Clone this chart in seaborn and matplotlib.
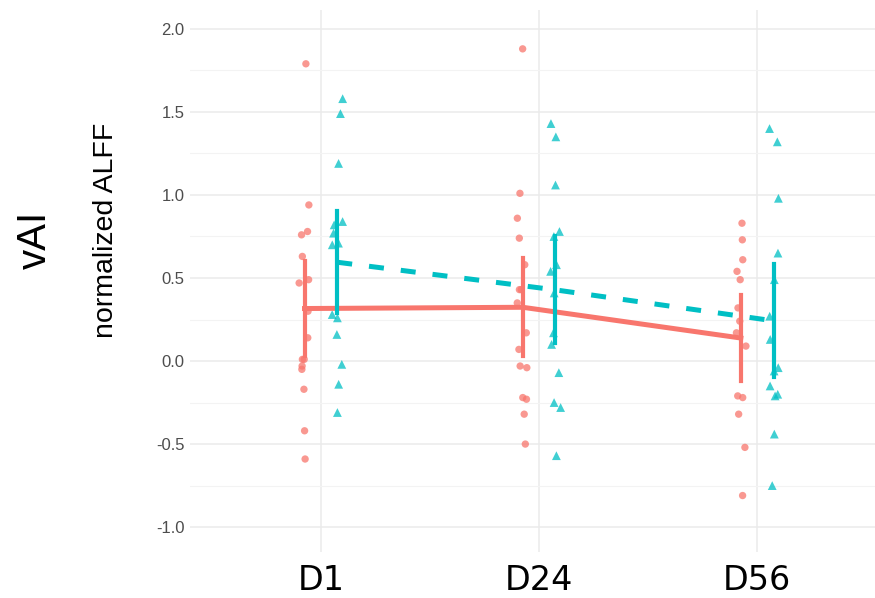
import numpy as np
import pandas as pd
import matplotlib
matplotlib.use("Agg")
import matplotlib.pyplot as plt
import seaborn as sns

# ---- data ----
days = ["D1", "D24", "D56"]
groups = ["group1", "group2"]

g1_D1 = [1.79, 0.94, 0.78, 0.76, 0.63, 0.49, 0.47, 0.30, 0.14, 0.01, 0.01, -0.03, -0.05, -0.17, -0.42, -0.59]
g2_D1 = [1.58, 1.49, 1.19, 0.84, 0.82, 0.77, 0.71, 0.70, 0.28, 0.26, 0.16, -0.02, -0.14, -0.31]
g1_D24 = [1.88, 1.01, 0.86, 0.74, 0.58, 0.43, 0.43, 0.35, 0.17, 0.07, -0.03, -0.04, -0.22, -0.23, -0.32, -0.50]
g2_D24 = [1.43, 1.35, 1.06, 0.78, 0.75, 0.58, 0.54, 0.41, 0.17, 0.10, -0.07, -0.25, -0.28, -0.57]
g1_D56 = [0.83, 0.73, 0.61, 0.54, 0.49, 0.32, 0.24, 0.17, 0.09, -0.21, -0.22, -0.32, -0.52, -0.81]
g2_D56 = [1.40, 1.32, 0.98, 0.65, 0.49, 0.27, 0.13, -0.04, -0.06, -0.15, -0.20, -0.21, -0.44, -0.75]

yticks = [-1.0, -0.5, 0.0, 0.5, 1.0, 1.5, 2.0]
ytick_labels = ["-1.0", "-0.5", "0.0", "0.5", "1.0", "1.5", "2.0"]

colors = {"group1": "#F8766D", "group2": "#00BFC4"}

# ---- build long table ----
series = {
    ("D1", "group1"): g1_D1, ("D1", "group2"): g2_D1,
    ("D24", "group1"): g1_D24, ("D24", "group2"): g2_D24,
    ("D56", "group1"): g1_D56, ("D56", "group2"): g2_D56,
}
rows = []
for (d, g), vals in series.items():
    for v in vals:
        rows.append({"day": d, "pos": days.index(d), "group": g, "value": v})
df = pd.DataFrame(rows)

dodge = 0.15
rng = np.random.default_rng(7)
offset = df["group"].map({"group1": -dodge / 2, "group2": dodge / 2})
df["xj"] = df["pos"] + offset + rng.uniform(-0.025, 0.025, len(df))

# ---- figure ----
fig = plt.figure(figsize=(8.75, 5.98), dpi=100)
fig.patch.set_facecolor("white")
ax = fig.add_axes([190 / 875, 46 / 598, 685 / 875, 542 / 598])
ax.set_facecolor("white")

sns.scatterplot(data=df[df.group == "group1"], x="xj", y="value", color=colors["group1"],
                marker="o", s=28, alpha=0.75, edgecolor="none", ax=ax, legend=False, zorder=3)
sns.scatterplot(data=df[df.group == "group2"], x="xj", y="value", color=colors["group2"],
                marker="^", s=40, alpha=0.75, edgecolor="none", ax=ax, legend=False, zorder=3)

sns.pointplot(data=df, x="pos", y="value", hue="group", hue_order=groups,
              palette=colors, dodge=dodge, errorbar=("se", 1.96),
              markers=["", ""], linestyles=["-", (0, (3, 3.4))],
              linewidth=3.6, err_kws={"linewidth": 3, "linestyle": "-"},
              ax=ax, legend=False)
for coll in ax.collections:
    coll.set_zorder(3)
for ln in ax.lines:
    ln.set_zorder(4)

ax.set_xlim(-0.6, 2.54)
ax.set_ylim(-1.15, 2.114)
ax.set_xticks(range(len(days)))
ax.set_xticklabels(days, fontsize=24, family="DejaVu Sans", color="black")
ax.set_yticks(yticks)
ax.set_yticklabels(ytick_labels, fontsize=12, family="Liberation Sans", color="#4D4D4D")
ax.set_yticks(np.arange(-0.75, 2.0, 0.5), minor=True)
ax.tick_params(axis="both", which="both", length=0)
ax.tick_params(axis="x", pad=9)
ax.tick_params(axis="y", pad=4)
ax.grid(True, which="major", color="#EBEBEB", linewidth=1.1)
ax.grid(True, which="minor", axis="y", color="#F3F3F3", linewidth=0.8)
ax.set_axisbelow(True)
for s in ax.spines.values():
    s.set_visible(False)
ax.set_xlabel("")
ax.set_ylabel("")

fig.text(35 / 875, 1 - 240 / 598, "vAI", rotation=90, fontsize=29,
         family="Liberation Sans", ha="center", va="center")
fig.text(106 / 875, 1 - 230 / 598, "normalized ALFF", rotation=90, fontsize=20.5,
         family="Liberation Sans", ha="center", va="center")

fig.savefig("out.png", dpi=100, facecolor="white")
